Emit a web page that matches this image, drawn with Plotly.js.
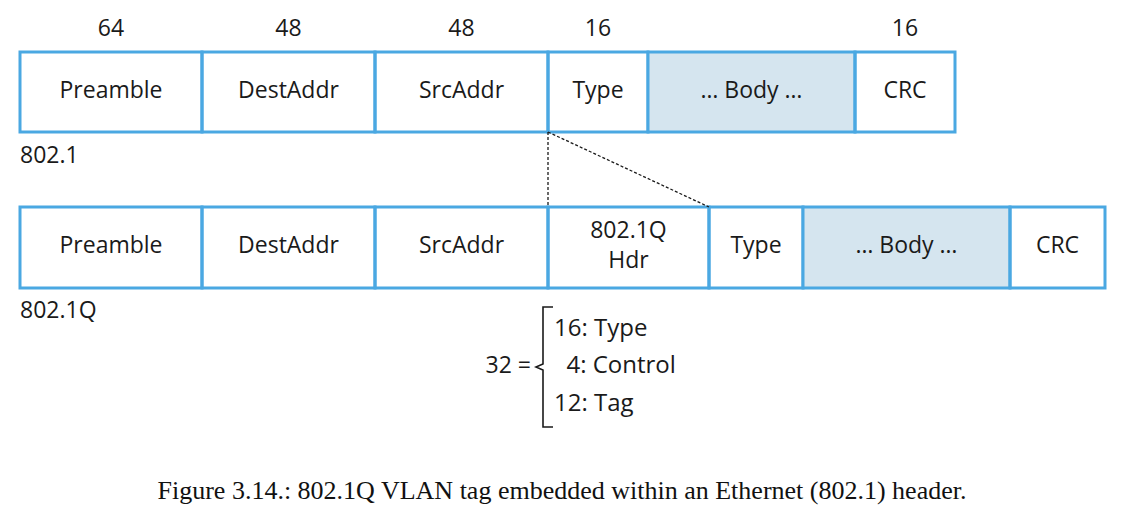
<!DOCTYPE html>
<html>
<head>
<meta charset="utf-8">
<script src="https://cdn.plot.ly/plotly-3.0.1.min.js"></script>
<style>body{margin:0;background:#fff}#chart{width:1124px;height:530px}</style>
</head>
<body>
<div id="chart"></div>
<script>
// field boundaries along the frame, and labels
const topEdges = [20, 202, 375, 548, 648, 855, 955];
const topLabels = ['Preamble', 'DestAddr', 'SrcAddr', 'Type', '… Body …', 'CRC'];
const topBits = ['64', '48', '48', '16', '', '16'];
const botEdges = [20, 202, 375, 548, 709, 803, 1010, 1105];
const botLabels = ['Preamble', 'DestAddr', 'SrcAddr', '802.1Q<br>Hdr', 'Type', '… Body …', 'CRC'];
const tagParts = ['16: Type', '  4: Control', '12: Tag'];

const edge = '#4aa8e2';
const bodyFill = '#d5e5ef';
const ink = '#1a1a1a';
const font = 'Open Sans';
const shapes = [];
const traces = [];

function row(edges, labels, y0, y1) {
  const xs = [], ys = [];
  for (let i = 0; i < labels.length; i++) {
    shapes.push({type: 'rect', layer: 'below', x0: edges[i], x1: edges[i + 1], y0: y0, y1: y1,
      line: {color: edge, width: 3},
      fillcolor: labels[i].indexOf('Body') >= 0 ? bodyFill : 'rgba(0,0,0,0)'});
    xs.push((edges[i] + edges[i + 1]) / 2);
    ys.push((y0 + y1) / 2);
  }
  traces.push({x: xs, y: ys, text: labels, mode: 'text', type: 'scatter',
    textfont: {family: font, size: 23, color: ink}, hoverinfo: 'none'});
}
row(topEdges, topLabels, 52, 132);
row(botEdges, botLabels, 207, 288);

traces.push({x: topEdges.slice(0, -1).map((e, i) => (e + topEdges[i + 1]) / 2), y: topBits.map(() => 30),
  text: topBits, mode: 'text', type: 'scatter', hoverinfo: 'none',
  textfont: {family: font, size: 23, color: ink}});

// dashed expansion lines
shapes.push({type: 'line', x0: 548, y0: 132, x1: 548, y1: 207, line: {color: ink, width: 1.3, dash: '3px,2px'}});
shapes.push({type: 'line', x0: 548, y0: 132, x1: 709, y1: 207, line: {color: ink, width: 1.3, dash: '3px,2px'}});

// brace
shapes.push({type: 'path', path: 'M 553 307 L 543 307 L 543 364 L 536 367 L 543 370 L 543 427 L 553 427',
  line: {color: ink, width: 1.6}});

traces.push({x: [20, 20], y: [157, 312], text: ['802.1', '802.1Q'], mode: 'text', type: 'scatter',
  textposition: 'middle right', hoverinfo: 'none', textfont: {family: font, size: 23, color: ink}});
traces.push({x: [531], y: [367], text: ['32 ='], mode: 'text', type: 'scatter', textposition: 'middle left',
  hoverinfo: 'none', textfont: {family: font, size: 23, color: ink}});
traces.push({x: [554, 554, 554], y: [330, 367, 405], text: tagParts.map(t => t.replace(/ /g, '\u00a0')),
  mode: 'text', type: 'scatter', textposition: 'middle right', hoverinfo: 'none',
  textfont: {family: font, size: 24, color: ink}});
traces.push({x: [562], y: [492], text: ['Figure 3.14.: 802.1Q VLAN tag embedded within an Ethernet (802.1) header.'],
  mode: 'text', type: 'scatter', hoverinfo: 'none',
  textfont: {family: 'Liberation Serif', size: 26, color: '#111'}});

Plotly.newPlot('chart', traces, {
  width: 1124, height: 530, margin: {l: 0, r: 0, t: 0, b: 0},
  showlegend: false, paper_bgcolor: '#fff', plot_bgcolor: '#fff',
  xaxis: {range: [0, 1124], visible: false, fixedrange: true},
  yaxis: {range: [530, 0], visible: false, fixedrange: true},
  shapes: shapes
}, {displayModeBar: false, staticPlot: true});
</script>
</body>
</html>
